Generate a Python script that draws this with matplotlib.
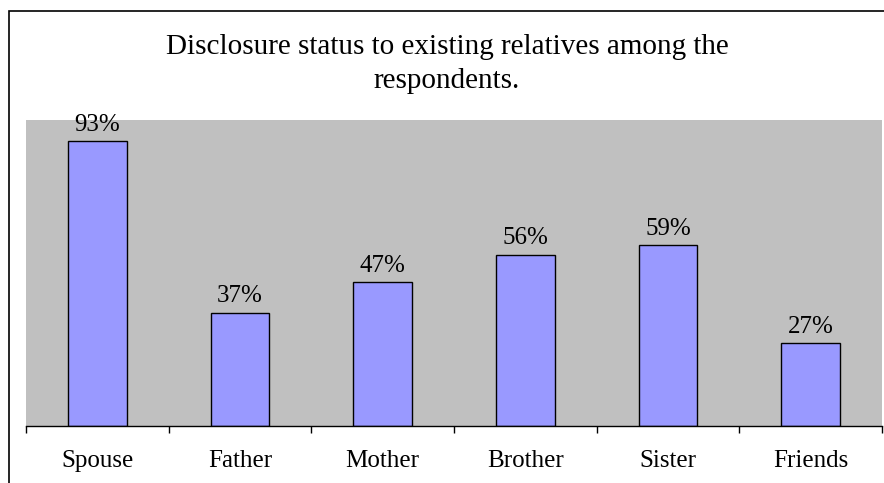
import matplotlib.pyplot as plt
from matplotlib.patches import Rectangle

# data
categories = ["Spouse", "Father", "Mother", "Brother", "Sister", "Friends"]
values = [93, 37, 47, 56, 59, 27]

plt.rcParams["font.family"] = ["Liberation Serif", "DejaVu Serif"]

fig = plt.figure(figsize=(8.84, 4.83), dpi=100)

# outer frame (cut off at right/bottom like the reference)
fig.patches.append(Rectangle((8.5 / 884, -0.1), 1.2, 1.1 - 10.5 / 483,
                             transform=fig.transFigure, fill=False,
                             edgecolor="black", linewidth=1.2))

ax = fig.add_axes([26 / 884, 57 / 483, 856 / 884, 306 / 483])
ax.set_facecolor("#C0C0C0")

x = range(len(categories))
ax.bar(x, values, width=0.41, color="#9999FF", edgecolor="black", linewidth=1.0)

for xi, v in zip(x, values):
    ax.annotate(f"{v}%", (xi, v), xytext=(0, 4), textcoords="offset points",
                ha="center", va="bottom", fontsize=18)

ax.set_xlim(-0.5, len(categories) - 0.5)
ax.set_ylim(0, 100)
ax.set_yticks([])
ax.set_xticks([i - 0.5 for i in range(len(categories) + 1)])
ax.set_xticklabels([])
ax.tick_params(axis="x", length=5, width=1, direction="out")
ax.set_xticks(list(x), minor=True)
ax.set_xticklabels(categories, minor=True, fontsize=18)
ax.tick_params(axis="x", which="minor", length=0, pad=17)

for s in ["top", "right", "left"]:
    ax.spines[s].set_visible(False)
ax.spines["bottom"].set_linewidth(1.0)

fig.text(447 / 884, 1 - 64 / 483,
         "Disclosure status to existing relatives among the\nrespondents.",
         ha="center", va="center", fontsize=21, linespacing=1.43)

fig.savefig("out.png", dpi=100)
